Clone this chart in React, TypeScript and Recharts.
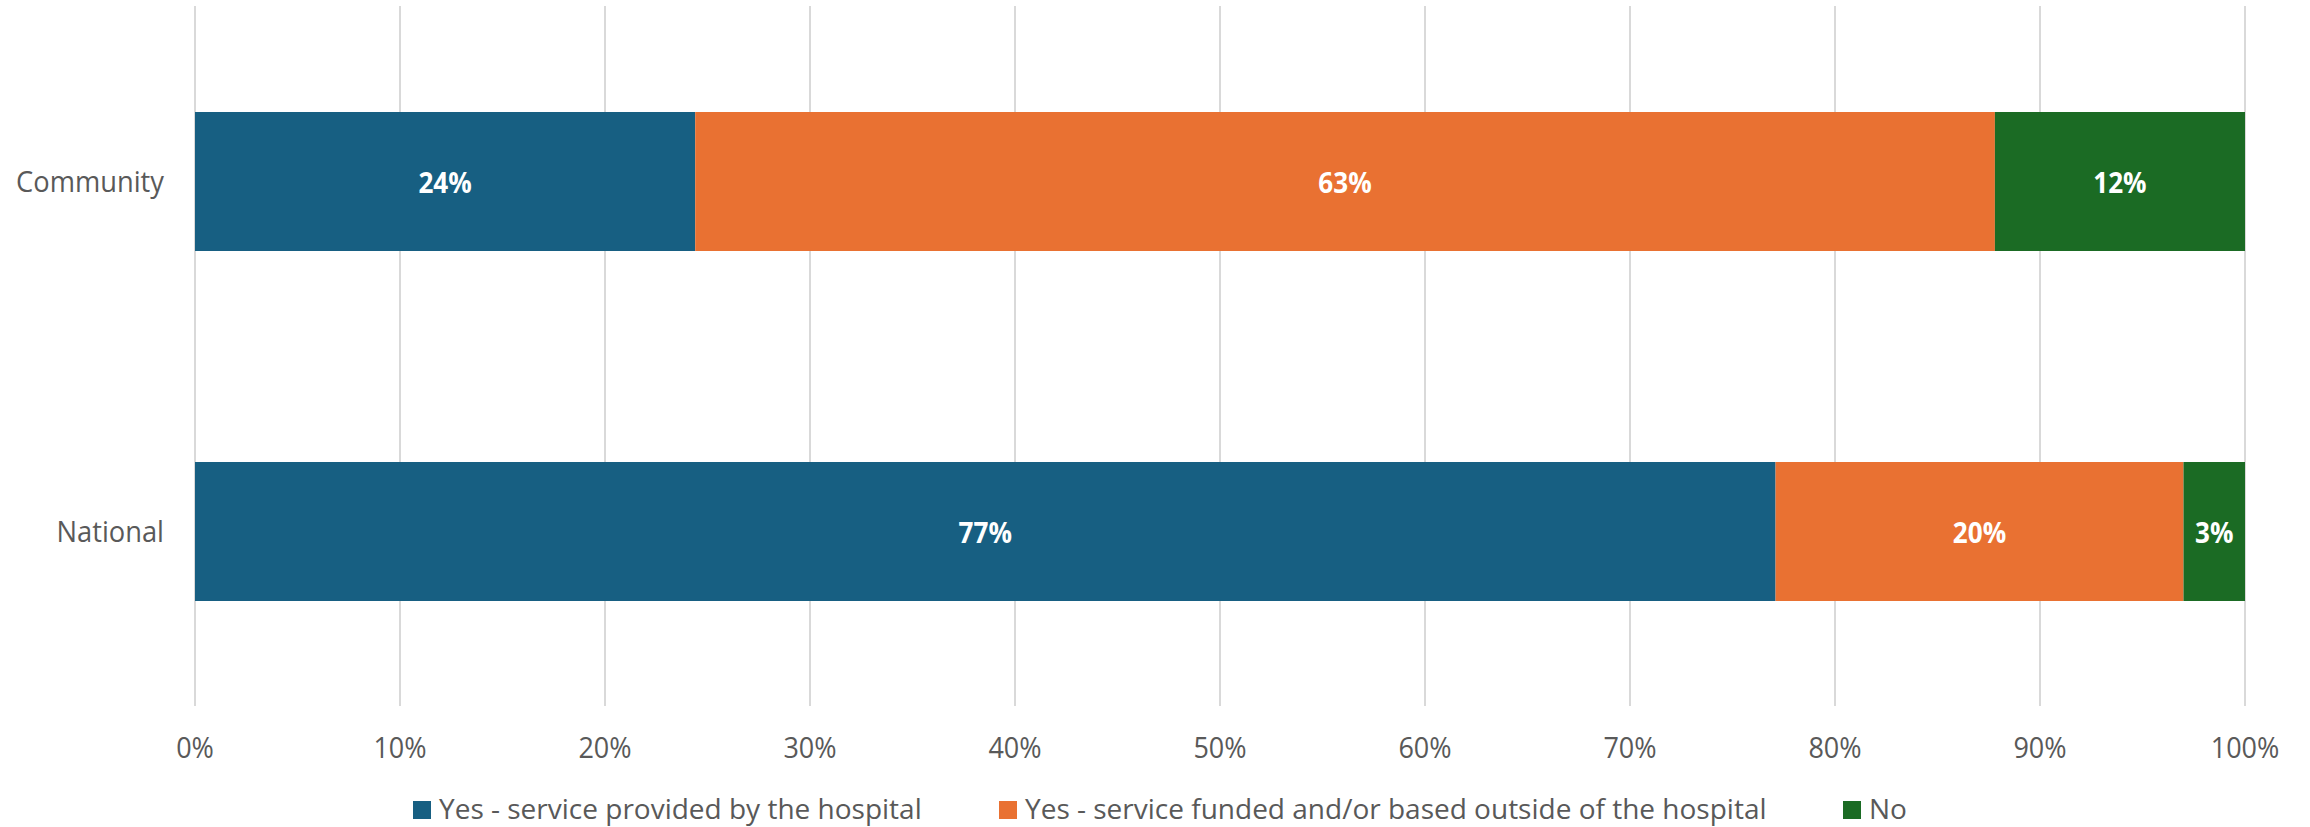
import { BarChart, Bar, XAxis, YAxis, CartesianGrid, LabelList } from 'recharts'

// share of respondents per answer, by group (percent)
const categories = ['Community', 'National']
const providedByHospital = [24.4, 77.1]
const fundedOutside = [63.4, 19.9]
const noService = [12.2, 3.0]
const xTicks = [0, 10, 20, 30, 40, 50, 60, 70, 80, 90, 100]

const series = [
  { key: 'hospital', name: 'Yes - service provided by the hospital', color: '#175F82', values: providedByHospital },
  { key: 'outside', name: 'Yes - service funded and/or based outside of the hospital', color: '#E97132', values: fundedOutside },
  { key: 'no', name: 'No', color: '#1B6B24', values: noService },
]

const data = categories.map((name, i) => {
  const row: any = { name }
  series.forEach(s => { row[s.key] = s.values[i] })
  return row
})

const FONT = '"Open Sans", sans-serif'
const GREY = '#595959'
const W = 2310
const H = 827

const XTick = ({ x, y, payload }: any) => (
  <g transform={`translate(${x},${y + 52}) scale(0.9,1)`}>
    <text x={0} y={0} textAnchor="middle" fill={GREY} fontSize={30} fontFamily={FONT}>{payload.value}%</text>
  </g>
)

const YTick = ({ x, y, payload }: any) => (
  <g transform={`translate(${x - 31},${y + 11}) scale(0.91,1)`}>
    <text x={0} y={0} textAnchor="end" fill={GREY} fontSize={30} fontFamily={FONT}>{payload.value}</text>
  </g>
)

const SegmentLabel = (props: any) => {
  const { x, y, width, height, value } = props
  const cx = Number(x) + Number(width) / 2
  const cy = Number(y) + Number(height) / 2 + 11
  return (
    <g transform={`translate(${cx},${cy}) scale(0.9,1)`}>
      <text x={0} y={0} textAnchor="middle" fill="#fff" fontSize={29} fontWeight={700} fontFamily={FONT}>
        {Math.round(value)}%
      </text>
    </g>
  )
}

// legend items sit along the bottom edge
const legendLeft = [413, 999, 1843]
const LEGEND_TOP = 767

export default function App() {
  return (
    <div style={{ position: 'absolute', left: 0, top: 0, width: W, height: H, background: '#fff' }}>
      <BarChart
        width={W}
        height={H}
        data={data}
        layout="vertical"
        barSize={139}
        margin={{ top: 6, right: 65, bottom: 51, left: 0 }}
      >
        <CartesianGrid horizontal={false} stroke="#D9D9D9" strokeWidth={2} />
        <XAxis
          type="number"
          domain={[0, 100]}
          ticks={xTicks}
          axisLine={false}
          tickLine={false}
          tickSize={0}
          tickMargin={0}
          height={70}
          tick={<XTick />}
        />
        <YAxis
          type="category"
          dataKey="name"
          axisLine={false}
          tickLine={false}
          tickSize={0}
          tickMargin={0}
          width={195}
          tick={<YTick />}
        />
        {series.map(s => (
          <Bar key={s.key} dataKey={s.key} name={s.name} stackId="a" fill={s.color} isAnimationActive={false}>
            <LabelList dataKey={s.key} content={<SegmentLabel />} />
          </Bar>
        ))}
      </BarChart>
      <svg width={W} height={H - LEGEND_TOP} style={{ position: 'absolute', left: 0, top: LEGEND_TOP }}>
        {series.map((s, i) => (
          <g key={s.key} transform={`translate(${legendLeft[i]},0)`}>
            <rect x={0} y={34} width={18} height={18} fill={s.color} />
            <text x={26} y={52} fill={GREY} fontSize={28} fontFamily={FONT}>{s.name}</text>
          </g>
        ))}
      </svg>
    </div>
  )
}
